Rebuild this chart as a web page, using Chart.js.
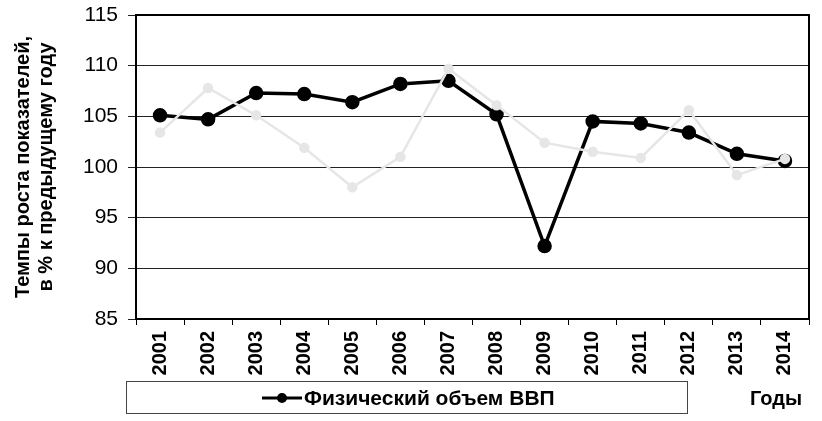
<!DOCTYPE html>
<html><head><meta charset="utf-8">
<script src="https://cdn.jsdelivr.net/npm/chart.js@4"></script>
<style>body{margin:0;background:#fff}canvas{display:block}</style>
</head><body>
<canvas id="c" width="822" height="421"></canvas>
<script>
const years = ['2001','2002','2003','2004','2005','2006','2007','2008','2009','2010','2011','2012','2013','2014'];
const gdpVolume = [105.1,104.7,107.3,107.2,106.4,108.2,108.5,105.2,92.2,104.5,104.3,103.4,101.3,100.6];
const secondSeries = [103.4,107.8,105.1,101.9,98.0,101.0,109.7,106.1,102.4,101.5,100.9,105.6,99.2,100.8];
const yTickValues = [85,90,95,100,105,110,115];
const yTitle = ['Темпы роста показателей,','в % к предыдущему году'];
const legendLabel = 'Физический объем ВВП';
const xAxisName = 'Годы';

const FONT = '"Liberation Sans", Arial, sans-serif';

const framePlugin = {
  id: 'frame',
  afterDraw(chart) {
    const {ctx, chartArea: a} = chart;
    ctx.save();
    ctx.strokeStyle = '#000';
    ctx.lineWidth = 2;
    ctx.strokeRect(a.left, a.top, a.right - a.left, a.bottom - a.top);
    // legend box
    ctx.lineWidth = 1;
    ctx.strokeStyle = '#444';
    ctx.strokeRect(126.5, 381.5, 561, 32);
    const ds = chart.data.datasets[1];
    ctx.strokeStyle = ds.borderColor;
    ctx.lineWidth = 3;
    ctx.beginPath(); ctx.moveTo(262, 398); ctx.lineTo(302, 398); ctx.stroke();
    ctx.fillStyle = ds.pointBackgroundColor;
    ctx.beginPath(); ctx.arc(282, 398, 5, 0, Math.PI*2); ctx.fill();
    ctx.fillStyle = '#000';
    ctx.font = 'bold 21px ' + FONT;
    ctx.textBaseline = 'middle';
    ctx.textAlign = 'left';
    ctx.fillText(ds.label, 304, 399);
    ctx.font = 'bold 20px ' + FONT;
    ctx.fillText(xAxisName, 750, 399);
    ctx.restore();
  }
};

new Chart(document.getElementById('c'), {
  type: 'line',
  data: {
    labels: years,
    datasets: [
      {
        label: '',
        data: secondSeries,
        order: 0,
        borderColor: '#e6e6e6',
        backgroundColor: '#e6e6e6',
        pointBackgroundColor: '#e6e6e6',
        pointBorderColor: '#e6e6e6',
        borderWidth: 2.5,
        pointRadius: 4,
        tension: 0
      },
      {
        label: legendLabel,
        data: gdpVolume,
        order: 1,
        borderColor: '#000',
        backgroundColor: '#000',
        pointBackgroundColor: '#000',
        pointBorderColor: '#000',
        borderWidth: 3.5,
        pointRadius: 5.5,
        tension: 0
      }
    ]
  },
  options: {
    responsive: false,
    animation: false,
    devicePixelRatio: 1,
    layout: {padding: {left: 0, right: 13, top: 15, bottom: 0}},
    plugins: {legend: {display: false}, tooltip: {enabled: false}},
    scales: {
      x: {
        offset: true,
        grid: {offset: true, drawOnChartArea: false, drawTicks: true, tickLength: 6, color: '#000', lineWidth: 1},
        border: {display: true, color: '#000', width: 2},
        ticks: {maxRotation: 90, minRotation: 90, padding: 6, color: '#000', font: {family: FONT, size: 20, weight: 'bold'}},
        afterFit(s) { s.height = 102; }
      },
      y: {
        min: 85, max: 115,
        afterBuildTicks(s) { s.ticks = yTickValues.map(v => ({value: v})); },
        grid: {color: '#222', lineWidth: 1, tickLength: 8, drawTicks: true},
        border: {display: true, color: '#000', width: 2},
        ticks: {padding: 10, color: '#000', font: {family: FONT, size: 21}},
        title: {display: true, text: yTitle, color: '#000', font: {family: FONT, size: 20, weight: 'bold', lineHeight: 1.15}, padding: {top: 12, bottom: 0}},
        afterFit(s) { s.width = 136; s.paddingTop = 0; s.paddingBottom = 0; }
      }
    }
  },
  plugins: [framePlugin]
});
</script>
</body></html>
